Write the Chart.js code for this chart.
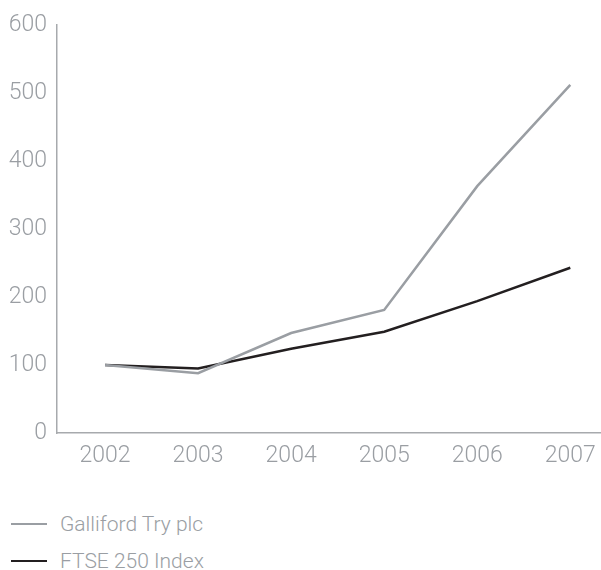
<!doctype html>
<html lang="en">
<head>
<meta charset="utf-8">
<title>Galliford Try vs FTSE 250</title>
<script src="https://cdn.jsdelivr.net/npm/chart.js@4.4.1/dist/chart.umd.min.js"></script>
<style>
  body { margin: 0; background: #fff; font-family: Roboto, "Liberation Sans", Arial, sans-serif; }
  #wrap { position: relative; width: 601px; height: 570px; }
  #chartBox { position: absolute; left: 0; top: 0; width: 601px; height: 481px; }
  .leg { position: absolute; left: 11px; font-size: 21px; font-weight: 300; color: #9a9ea3; line-height: 24px; white-space: nowrap; }
  .leg span.swatch { display: inline-block; width: 36px; height: 2px; vertical-align: middle; margin-right: 13px; position: relative; top: -1px; }
</style>
</head>
<body>
<div id="wrap">
  <div id="chartBox"><canvas id="myChart"></canvas></div>
  <div id="legend"></div>
</div>
<script>
const years = [2002, 2003, 2004, 2005, 2006, 2007];
const gallifordTry = [100, 88, 147, 181, 363, 512];
const ftse250 = [100, 95, 124, 149, 194, 243];
const seriesNames = ['Galliford Try plc', 'FTSE 250 Index'];
const yTicks = [0, 100, 200, 300, 400, 500, 600];

const grey = '#9a9ea3';
const black = '#231f20';
const axisColor = '#a7aaad';
const tickFont = { family: 'Roboto', size: 23, weight: 300 };

const toPoints = (vals) => years.map((y, i) => ({ x: y, y: vals[i] }));

const ctx = document.getElementById('myChart');
new Chart(ctx, {
  type: 'line',
  data: {
    datasets: [
      { label: seriesNames[0], data: toPoints(gallifordTry), borderColor: grey, borderWidth: 2.5, pointRadius: 0, tension: 0 },
      { label: seriesNames[1], data: toPoints(ftse250), borderColor: black, borderWidth: 2.5, pointRadius: 0, tension: 0 }
    ]
  },
  options: {
    responsive: true,
    maintainAspectRatio: false,
    animation: false,
    layout: { padding: { top: 25, right: 0, bottom: 0, left: 0 } },
    plugins: { legend: { display: false }, tooltip: { enabled: false } },
    scales: {
      x: {
        type: 'linear',
        min: 2001.484,
        max: 2007.33,
        afterBuildTicks: (scale) => { scale.ticks = years.map(v => ({ value: v })); },
        afterFit: (scale) => { scale.height = 48; scale.paddingRight = 0; scale.paddingLeft = 0; },
        grid: { display: false, drawTicks: false },
        border: { color: axisColor, width: 1.5 },
        ticks: {
          padding: 9,
          color: grey,
          font: tickFont,
          callback: (v) => String(v),
          maxRotation: 0,
          autoSkip: false
        }
      },
      y: {
        min: 0,
        max: 600,
        afterBuildTicks: (scale) => { scale.ticks = yTicks.map(v => ({ value: v })); },
        afterFit: (scale) => { scale.width = 57; scale.paddingTop = 0; scale.paddingBottom = 0; },
        grid: { display: false, drawTicks: false },
        border: { color: axisColor, width: 1.5 },
        ticks: {
          padding: 10,
          color: grey,
          font: tickFont
        }
      }
    }
  }
});

// legend below the chart, one row per series
const legendEl = document.getElementById('legend');
const legColors = [grey, black];
const legTops = [512, 549];
seriesNames.forEach((name, i) => {
  const d = document.createElement('div');
  d.className = 'leg';
  d.style.top = legTops[i] + 'px';
  d.innerHTML = '<span class="swatch" style="background:' + legColors[i] + '"></span>' + name;
  legendEl.appendChild(d);
});
</script>
</body>
</html>
